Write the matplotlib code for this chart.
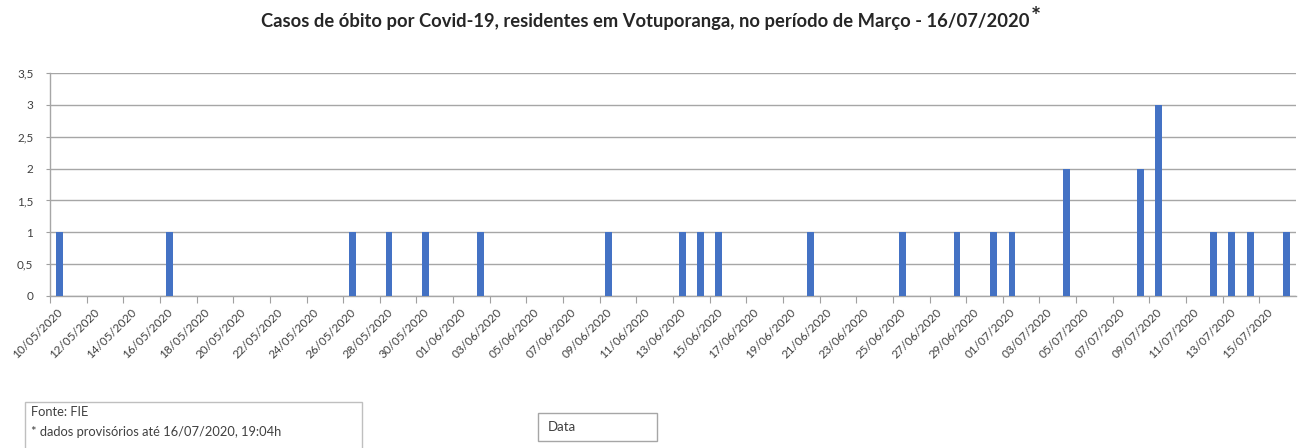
import matplotlib
matplotlib.use("Agg")
import matplotlib.pyplot as plt
import matplotlib.dates as mdates
import matplotlib.patches as mpatches
import matplotlib.transforms as mtransforms
import pandas as pd

# ---- data ----
death_dates = ["10/05/2020", "16/05/2020", "26/05/2020", "28/05/2020", "30/05/2020",
               "02/06/2020", "09/06/2020", "13/06/2020", "14/06/2020", "15/06/2020",
               "20/06/2020", "25/06/2020", "28/06/2020", "30/06/2020", "01/07/2020",
               "04/07/2020", "08/07/2020", "09/07/2020", "12/07/2020", "13/07/2020",
               "14/07/2020", "16/07/2020"]
death_values = [1, 1, 1, 1, 1,
                1, 1, 1, 1, 1,
                1, 1, 1, 1, 1,
                2, 2, 3, 1, 1,
                1, 1]
axis_start = "10/05/2020"
axis_end = "16/07/2020"
tick_step_days = 2
yticks = [0, 0.5, 1, 1.5, 2, 2.5, 3, 3.5]
ytick_labels = ["0", "0,5", "1", "1,5", "2", "2,5", "3", "3,5"]
title = "Casos de óbito por Covid-19, residentes em Votuporanga, no período de Março - 16/07/2020"
source_lines = ["Fonte: FIE", "* dados provisórios até 16/07/2020, 19:04h"]
legend_label = "Data"

plt.rcParams['font.family'] = ['Lato', 'DejaVu Sans']

W, H = 1298, 448
fig = plt.figure(figsize=(W / 100, H / 100), dpi=100)
ax = fig.add_axes([50 / W, 1 - 296 / H, 1246 / W, (296 - 73) / H])

d = pd.to_datetime(death_dates, format="%d/%m/%Y")
x = mdates.date2num(d)
ax.bar(x, death_values, width=0.38, color="#4472C4", zorder=3)

start = pd.to_datetime(axis_start, format="%d/%m/%Y")
end = pd.to_datetime(axis_end, format="%d/%m/%Y")
ax.set_xlim(mdates.date2num(start) - 0.5, mdates.date2num(end) + 0.5)
tick_dates = pd.date_range(start, end, freq=f"{tick_step_days}D")
ax.set_xticks(mdates.date2num(tick_dates) - 0.5)
ax.set_xticklabels([t.strftime("%d/%m/%Y") for t in tick_dates], rotation=45,
                   ha="right", rotation_mode="anchor", fontsize=8.5, color="#404040")
ax.tick_params(axis="x", length=5, color="#A0A0A0", pad=2)
offset = mtransforms.ScaledTranslation(7 / 100, -1 / 100, fig.dpi_scale_trans)
for lab in ax.get_xticklabels():
    lab.set_transform(lab.get_transform() + offset)

ax.set_ylim(0, 3.5)
ax.set_yticks(yticks)
ax.set_yticklabels(ytick_labels, fontsize=8.5, color="#404040")
ax.tick_params(axis="y", length=3, color="#A0A0A0", pad=9)
ax.yaxis.grid(True, color="#A6A6A6", linewidth=1.0, zorder=0)
ax.set_axisbelow(True)
for s in ["top", "right"]:
    ax.spines[s].set_visible(False)
for s in ["left", "bottom"]:
    ax.spines[s].set_color("#A6A6A6")
    ax.spines[s].set_linewidth(1.0)

t = fig.text(645 / W, 1 - 22 / H, title, ha="center", va="center", fontsize=13.2,
             fontweight="bold", color="#262626")
fig.canvas.draw()
bb = t.get_window_extent()
fig.text((bb.x1 + 1) / W, 1 - 17 / H, "*", ha="left", va="center", fontsize=17,
         fontweight="bold", color="#262626")

# source box
fig.patches.append(mpatches.Rectangle((25 / W, -0.02), 337 / W, 0.02 + 1 - 402 / H,
                                      transform=fig.transFigure, fill=False,
                                      edgecolor="#BFBFBF", linewidth=1))
fig.text(31 / W, 1 - 412 / H, source_lines[0], ha="left", va="center", fontsize=9.3, color="#404040")
fig.text(31 / W, 1 - 432 / H, source_lines[1], ha="left", va="center", fontsize=9.3, color="#404040")

# legend box
fig.patches.append(mpatches.Rectangle((538 / W, 1 - 441 / H), 119 / W, 28 / H,
                                      transform=fig.transFigure, fill=False,
                                      edgecolor="#A6A6A6", linewidth=1))
fig.text(548 / W, 1 - 427 / H, legend_label, ha="left", va="center", fontsize=9.5, color="#404040")

fig.savefig("out.png", dpi=100)
